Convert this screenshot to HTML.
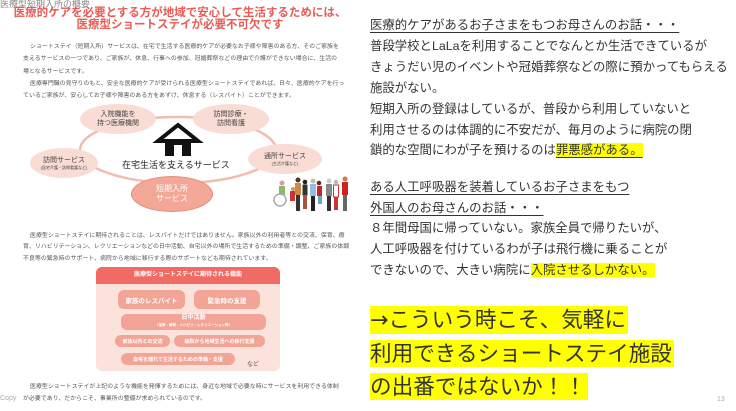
<!DOCTYPE html>
<html><head><meta charset="utf-8"><style>
*{margin:0;padding:0;box-sizing:border-box}
body{width:736px;height:411px;background:#fff;position:relative;overflow:hidden;font-family:"Liberation Sans","Noto Sans CJK JP",sans-serif}
.a{position:absolute;white-space:nowrap}
.t{font-size:11.5px;font-weight:bold;color:#ea5b55;text-align:center;width:360px;left:0}
.p{font-size:5.9px;color:#555;left:23px;letter-spacing:0.05px}
.node{position:absolute;border-radius:50%;background:#f9dcd3;text-align:center;color:#444;font-size:7px;line-height:9px;display:flex;flex-direction:column;justify-content:center;align-items:center}
.pill{position:absolute;background:#f2a596;color:#fff;border-radius:6px;font-size:6px;display:flex;align-items:center;justify-content:center;font-weight:bold}
.r{font-size:12.4px;color:#333;left:370px;line-height:21px}
.u{text-decoration:underline;text-underline-offset:3px}
.hl{background:#ffff00}
.big{font-size:21.6px;color:#333;left:370px;background:#ffff00;line-height:27px;padding-right:2px}
</style></head><body>
<div class="a" style="left:0;top:-3px;font-size:9px;color:#888">医療型短期入所の概要</div>
<div class="a t" style="top:4px">医療的ケアを必要とする方が地域で安心して生活するためには、</div>
<div class="a t" style="top:16px">医療型ショートステイが必要不可欠です</div>
<div class="a p" style="top:41px;left:30px">ショートステイ（短期入所）サービスは、在宅で生活する医療的ケアが必要なお子様や障害のある方、そのご家族を</div>
<div class="a p" style="top:53px">支えるサービスの一つであり、ご家族が、休息、行事への参加、冠婚葬祭などの理由で介護ができない場合に、生活の</div>
<div class="a p" style="top:66px">場となるサービスです。</div>
<div class="a p" style="top:78px;left:30px">医療専門職の見守りのもと、安全な医療的ケアが受けられる医療型ショートステイであれば、日々、医療的ケアを行っ</div>
<div class="a p" style="top:90px">ているご家族が、安心してお子様や障害のある方をあずけ、休息する（レスパイト）ことができます。</div>
<svg class="a" style="left:0;top:0" width="360" height="411">
<ellipse cx="178" cy="150" rx="98" ry="33" fill="none" stroke="#f2bcae" stroke-width="2.5"/>
<polygon points="158,141 178,125 198,141" fill="none" stroke="#111" stroke-width="4"/>
<rect x="165" y="140" width="26" height="16" fill="#111"/>
<rect x="174" y="145" width="8" height="11" fill="#fff"/>
</svg>
<div class="node" style="left:80px;top:104px;width:76px;height:30px">入院機能を<br>持つ医療機関</div>
<div class="node" style="left:193px;top:104px;width:76px;height:30px">訪問診療・<br>訪問看護</div>
<div class="node" style="left:30px;top:148px;width:68px;height:30px">訪問サービス<span style="font-size:4px;line-height:6px">(居宅介護・訪問看護など)</span></div>
<div class="node" style="left:248px;top:144px;width:74px;height:30px">通所サービス<span style="font-size:4px;line-height:6px">(生活介護など)</span></div>
<div class="node" style="left:131px;top:176px;width:82px;height:36px;background:#f2a797;border:1.5px solid #e88c7c;color:#fff;font-size:8px;line-height:10px">短期入所<br>サービス</div>
<div class="a" style="left:122px;top:158px;font-size:9px;color:#222">在宅生活を支えるサービス</div>
<svg class="a" style="left:268px;top:176px" width="80" height="40">
<g>
<circle cx="14" cy="7" r="2.5" fill="#d9a"/><rect x="11" y="10" width="6" height="9" fill="#8b6"/><circle cx="12" cy="24" r="6" fill="none" stroke="#aab" stroke-width="1.5"/>
<circle cx="25" cy="13" r="2" fill="#c96"/><rect x="22" y="15" width="5" height="10" fill="#c33"/>
<circle cx="30" cy="4" r="2.5" fill="#532"/><rect x="27" y="7" width="6" height="12" fill="#c84"/><rect x="28" y="19" width="4" height="16" fill="#333"/>
<circle cx="37" cy="6" r="2.3" fill="#222"/><rect x="34.5" y="8.5" width="5" height="11" fill="#333"/><rect x="35" y="19" width="4" height="14" fill="#a54"/>
<circle cx="45" cy="5" r="2.5" fill="#cba"/><rect x="42" y="8" width="6" height="12" fill="#9bd"/><rect x="43" y="20" width="4" height="15" fill="#222"/>
<circle cx="51" cy="7" r="2.3" fill="#532"/><rect x="49" y="10" width="5" height="10" fill="#c23"/><rect x="50" y="20" width="4" height="8" fill="#6ab"/>
<circle cx="61" cy="5" r="2.5" fill="#ccc"/><rect x="58" y="8" width="6" height="12" fill="#888"/><rect x="59" y="20" width="4" height="15" fill="#333"/>
<circle cx="68" cy="6" r="2.3" fill="#bbb"/><rect x="65.5" y="9" width="5" height="12" fill="#fff" stroke="#c33"/><rect x="66" y="21" width="4" height="13" fill="#c33"/>
<circle cx="77" cy="3" r="2.5" fill="#c74"/><rect x="74" y="6" width="6" height="13" fill="#c22"/><rect x="75" y="19" width="4" height="16" fill="#666"/>
</g></svg>
<div class="a p" style="top:230px;left:30px">医療型ショートステイに期待されることは、レスパイトだけではありません。家族以外の利用者等との交流、保育、療</div>
<div class="a p" style="top:241px">育、リハビリテーション、レクリエーションなどの日中活動、自宅以外の場所で生活するための準備・調整、ご家族の体調</div>
<div class="a p" style="top:253px">不良等の緊急時のサポート、病院から地域に移行する際のサポートなども期待されています。</div>
<div class="a" style="left:96px;top:267px;width:184px;height:104px;background:#fbe3dc;border-radius:6px;overflow:hidden">
<div style="height:17px;background:#f06b64;color:#fff;font-size:6px;font-weight:bold;text-align:center;line-height:17px">医療型ショートステイに期待される機能</div></div>
<div class="pill" style="left:118px;top:290px;width:67px;height:19px;font-size:6.5px">家族のレスパイト</div>
<div class="pill" style="left:194px;top:290px;width:66px;height:19px;font-size:6.5px">緊急時の支援</div>
<div class="pill" style="left:121px;top:314px;width:145px;height:16px;flex-direction:column;line-height:7px">日中活動<span style="font-size:3.5px">（保育・療育・リハビリ・レクリエーション等）</span></div>
<div class="pill" style="left:115px;top:335px;width:55px;height:12px;font-size:5px">家族以外との交流</div>
<div class="pill" style="left:174px;top:335px;width:91px;height:12px;font-size:5px">病院から地域生活への移行支援</div>
<div class="pill" style="left:121px;top:353px;width:114px;height:12px;font-size:5px">自宅を離れて生活するための準備・支援</div>
<div class="a" style="left:247px;top:359px;font-size:6px;color:#555">など</div>
<div class="a p" style="top:381px;left:30px">医療型ショートステイが上記のような機能を発揮するためには、身近な地域で必要な時にサービスを利用できる体制</div>
<div class="a p" style="top:393px">が必要であり、だからこそ、事業所の整備が求められているのです。</div>
<div class="a" style="left:0;top:395px;font-size:7px;color:#aaa">Copy</div>
<div class="a" style="left:717px;top:396px;font-size:7px;color:#aaa">13</div>

<div class="a r u" style="top:15px">医療的ケアがあるお子さまをもつお母さんのお話・・・</div>
<div class="a r" style="top:36px">普段学校とLaLaを利用することでなんとか生活できているが</div>
<div class="a r" style="top:57px">きょうだい児のイベントや冠婚葬祭などの際に預かってもらえる</div>
<div class="a r" style="top:78px">施設がない。</div>
<div class="a r" style="top:99px">短期入所の登録はしているが、普段から利用していないと</div>
<div class="a r" style="top:120px">利用させるのは体調的に不安だが、毎月のように病院の閉</div>
<div class="a r" style="top:140px">鎖的な空間にわが子を預けるのは<span class="hl u">罪悪感がある。</span></div>
<div class="a r u" style="top:177px">ある人工呼吸器を装着しているお子さまをもつ</div>
<div class="a r u" style="top:198px">外国人のお母さんのお話・・・</div>
<div class="a r" style="top:218px">８年間母国に帰っていない。家族全員で帰りたいが、</div>
<div class="a r" style="top:239px">人工呼吸器を付けているわが子は飛行機に乗ることが</div>
<div class="a r" style="top:260px">できないので、大きい病院に<span class="hl">入院させるしかない。</span></div>
<div class="a big" style="top:306px"><span style="font-family:'DejaVu Sans',sans-serif;font-size:22px">→</span>こういう時こそ、気軽に</div>
<div class="a big" style="top:340px">利用できるショートステイ施設</div>
<div class="a big" style="top:373px">の出番ではないか！！</div>
</body></html>
